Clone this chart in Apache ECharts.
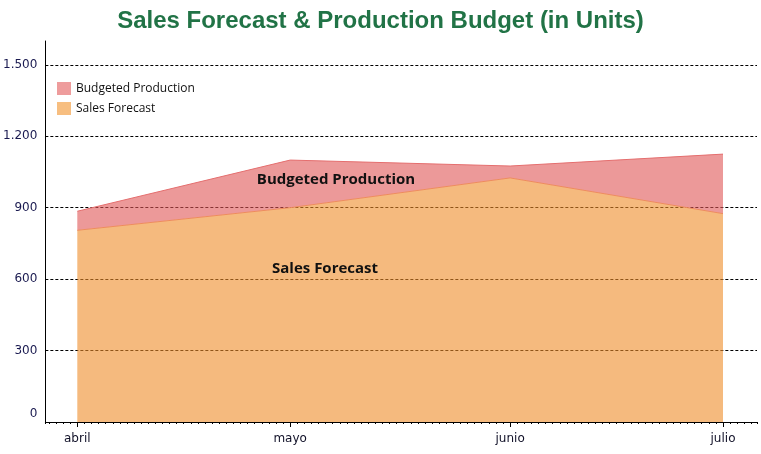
<!DOCTYPE html>
<html>
<head>
<meta charset="utf-8">
<script src="https://cdn.jsdelivr.net/npm/echarts@6/dist/echarts.min.js"></script>
<style>
html,body{margin:0;padding:0;background:#fff;}
#chart{width:761px;height:454px;}
</style>
</head>
<body>
<div id="chart"></div>
<script>
// ---- data ----
var categories = ['abril', 'mayo', 'junio', 'julio'];
var dates = ['2024-04-01', '2024-05-01', '2024-06-01', '2024-07-01'];
var salesForecast = [805, 900, 1025, 875];
var budgetedProduction = [885, 1100, 1075, 1125];
var yTicks = [0, 300, 600, 900, 1200, 1500];
var seriesNames = ['Budgeted Production', 'Sales Forecast'];

function fmtNum(v) {
  return String(v).replace(/\B(?=(\d{3})+(?!\d))/g, '.');
}
function catForTime(v) {
  var d = new Date(v);
  for (var i = 0; i < dates.length; i++) {
    var c = new Date(dates[i] + 'T00:00:00');
    if (c.getFullYear() === d.getFullYear() && c.getMonth() === d.getMonth() && c.getDate() === d.getDate()) return categories[i];
  }
  return '';
}

var salesData = dates.map(function (d, i) { return [d, salesForecast[i]]; });
// production drawn as band stacked above sales (top edge = budgeted production)
var prodBand = dates.map(function (d, i) { return [d, budgetedProduction[i] - salesForecast[i]]; });

var xMin = '2024-03-27T12:00:00';
var xMax = '2024-07-05T19:00:00';
var DAY = 86400000;

var chart = echarts.init(document.getElementById('chart'), null, {renderer: 'canvas'});
var option = {
  animation: false,
  title: {
    text: 'Sales Forecast & Production Budget (in Units)',
    left: 'center',
    top: 4,
    textStyle: {fontFamily: 'Liberation Sans', fontWeight: 'bold', fontSize: 24, color: '#217346'}
  },
  legend: {
    orient: 'vertical',
    left: 52,
    top: 77,
    itemWidth: 14,
    itemHeight: 13,
    itemGap: 7,
    icon: 'rect',
    data: [
      {name: seriesNames[0], itemStyle: {color: '#EE9C9C', borderWidth: 0}},
      {name: seriesNames[1], itemStyle: {color: '#F7BE80', borderWidth: 0}}
    ],
    textStyle: {fontFamily: 'Open Sans', fontSize: 12, color: '#111'}
  },
  grid: {left: 45, right: 4, top: 41, bottom: 32, containLabel: false},
  xAxis: [
    {
      type: 'time',
      min: xMin,
      max: xMax,
      splitNumber: 3,
      minInterval: 28 * DAY,
      axisLine: {show: true, lineStyle: {color: '#000', width: 1}},
      axisTick: {show: true, length: 5, lineStyle: {color: '#000'}},
      splitLine: {show: false},
      axisLabel: {
        margin: 11,
        fontFamily: 'DejaVu Sans',
        fontSize: 12,
        color: '#111128',
        showMinLabel: false,
        showMaxLabel: false,
        formatter: function (v) { return catForTime(v); }
      }
    },
    {
      type: 'time',
      min: xMin,
      max: xMax,
      position: 'bottom',
      minInterval: DAY,
      maxInterval: DAY,
      axisLine: {show: false},
      axisTick: {show: true, length: 2, lineStyle: {color: '#000'}},
      axisLabel: {show: false},
      splitLine: {show: false}
    }
  ],
  yAxis: {
    type: 'value',
    min: 0,
    max: 1600,
    interval: 300,
    axisLine: {show: true, lineStyle: {color: '#000', width: 1}},
    axisTick: {show: false},
    splitLine: {show: true, showMaxLine: false, lineStyle: {color: '#000', type: [3, 2], width: 1}},
    axisLabel: {
      margin: 8,
      fontFamily: 'DejaVu Sans',
      fontSize: 12,
      color: '#1a1a50',
      showMaxLabel: false,
      formatter: function (v) {
        if (yTicks.indexOf(v) < 0) return '';
        return v === 0 ? '{z|0}' : fmtNum(v);
      },
      rich: {z: {fontFamily: 'DejaVu Sans', fontSize: 12, color: '#1a1a50', padding: [0, 0, 16, 0]}}
    }
  },
  series: [
    {
      name: seriesNames[1],
      type: 'line',
      stack: 'total',
      xAxisIndex: 0,
      data: salesData,
      symbol: 'none',
      itemStyle: {color: '#F7BE80'},
      lineStyle: {color: '#EE8C5C', width: 1},
      areaStyle: {color: 'rgba(238,140,40,0.6)', opacity: 1},
      markPoint: {
        symbol: 'rect',
        symbolSize: 0,
        label: {show: true, position: 'inside', color: '#111', fontFamily: 'Open Sans', fontWeight: 'bold', fontSize: 15},
        data: [
          {coord: ['2024-05-07T11:00:00', 1018], value: seriesNames[0], label: {formatter: seriesNames[0]}},
          {coord: ['2024-05-05T22:00:00', 644], value: seriesNames[1], label: {formatter: seriesNames[1]}}
        ]
      }
    },
    {
      name: seriesNames[0],
      type: 'line',
      stack: 'total',
      xAxisIndex: 0,
      data: prodBand,
      symbol: 'none',
      itemStyle: {color: '#EE9C9C'},
      lineStyle: {color: '#E46E6E', width: 1},
      areaStyle: {color: 'rgba(223,85,85,0.6)', opacity: 1}
    }
  ]
};
chart.setOption(option);
</script>
</body>
</html>
